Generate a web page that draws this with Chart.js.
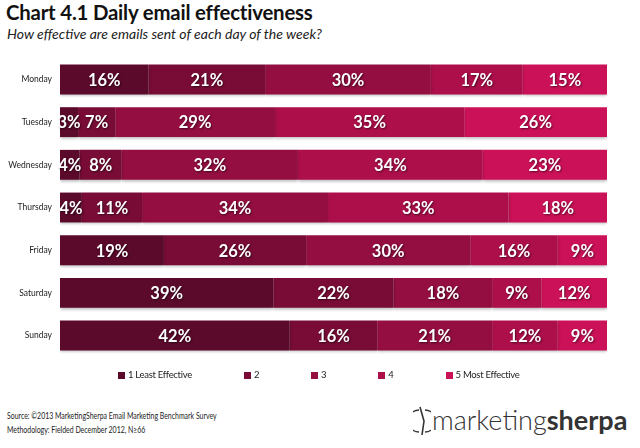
<!DOCTYPE html>
<html>
<head>
<meta charset="utf-8">
<script src="https://cdn.jsdelivr.net/npm/chart.js@4.4.0/dist/chart.umd.min.js"></script>
<style>
  html, body { margin: 0; padding: 0; background: #fff; }
  body { width: 640px; height: 448px; position: relative; overflow: hidden; font-family: Lato, "Open Sans", sans-serif; color: #111; }
  #title { position: absolute; left: 6px; top: -1px; font-size: 21px; font-weight: 700; letter-spacing: -0.2px; transform: scaleX(0.97); transform-origin: left; }
  #subtitle { position: absolute; left: 7px; top: 25px; font-size: 14px; font-style: italic; color: #222; }
  #wrap { position: absolute; left: 0; top: 45px; width: 640px; height: 325px; }
  #legend { position: absolute; left: 118px; top: 369px; display: flex; gap: 52px; font-size: 9.5px; letter-spacing: -0.3px; color: #222; white-space: nowrap; }
  #legend span.sw { display: inline-block; width: 7px; height: 7px; margin-right: 3px; vertical-align: -0.5px; }
  #source { position: absolute; left: 7px; top: 409px; font-size: 9.5px; line-height: 13.5px; color: #222; transform: scaleX(0.73); transform-origin: left; white-space: nowrap; }
  #logo { position: absolute; left: 413px; top: 403px; font-size: 27px; color: #333; white-space: nowrap; }
  #logo .light { font-weight: 300; }
  #logo .bold { font-weight: 700; }
  #logo svg { vertical-align: -6px; margin-right: 1px; }
</style>
</head>
<body>
<div id="title">Chart 4.1 Daily email effectiveness</div>
<div id="subtitle">How effective are emails sent of each day of the week?</div>
<div id="wrap"><canvas id="chart"></canvas></div>
<div id="legend"></div>
<div id="source">Source: ©2013 MarketingSherpa Email Marketing Benchmark Survey<br>Methodology: Fielded December 2012, N≥66</div>
<div id="logo"><svg width="18" height="30" viewBox="0 0 18 30"><path d="M6 4 A11 11 0 0 0 6 26" fill="none" stroke="#333" stroke-width="1.4"/><path d="M12 4 A11 11 0 0 1 12 26" fill="none" stroke="#333" stroke-width="1.4"/><path d="M7 1 L11 15 L9 29" fill="none" stroke="#333" stroke-width="1.6"/></svg><span class="light">marketing</span><span class="bold">sherpa</span></div>
<script>
const days = ['Monday', 'Tuesday', 'Wednesday', 'Thursday', 'Friday', 'Saturday', 'Sunday'];
const seriesNames = ['1 Least Effective', '2', '3', '4', '5 Most Effective'];
const seriesColors = ['#5c0a2c', '#790c36', '#940e41', '#ad0f4b', '#cb1158'];

// shares; labels show them rounded
const score1 = [16.2, 3.3, 3.6, 4, 19, 39, 42];
const score2 = [21.3, 6.8, 7.7, 11, 26, 22, 16];
const score3 = [30.3, 29.2, 32.2, 34, 30, 18, 21];
const score4 = [16.8, 34.6, 33.8, 33, 16, 9, 12];
const score5 = [15.4, 26.1, 22.7, 18, 9, 12, 9];
const allScores = [score1, score2, score3, score4, score5];

// legend as html so the spacing can match the original
const legendBox = document.getElementById('legend');
seriesNames.forEach((name, i) => {
  const item = document.createElement('div');
  item.innerHTML = `<span class="sw" style="background:${seriesColors[i]}"></span>${name}`;
  legendBox.appendChild(item);
});

const barShadow = {
  id: 'barShadow',
  beforeDatasetsDraw(chart) {
    const ctx = chart.ctx;
    ctx.save();
    ctx.shadowColor = 'rgba(0,0,0,0.28)';
    ctx.shadowBlur = 3;
    ctx.shadowOffsetY = 2;
  },
  afterDatasetsDraw(chart) {
    chart.ctx.restore();
  }
};

const segmentLabels = {
  id: 'segmentLabels',
  afterDatasetsDraw(chart) {
    const ctx = chart.ctx;
    ctx.save();
    ctx.font = 'bold 16.5px Lato, sans-serif';
    ctx.fillStyle = '#fff';
    ctx.textAlign = 'center';
    ctx.textBaseline = 'middle';
    ctx.shadowColor = 'rgba(0,0,0,0.55)';
    ctx.shadowBlur = 2;
    ctx.shadowOffsetX = 1;
    ctx.shadowOffsetY = 1;
    chart.data.datasets.forEach((ds, i) => {
      chart.getDatasetMeta(i).data.forEach((bar, j) => {
        const cx = (bar.x + bar.base) / 2;
        ctx.fillText(Math.round(ds.data[j]) + '%', cx, bar.y + 1);
      });
    });
    ctx.restore();
  }
};

new Chart(document.getElementById('chart'), {
  type: 'bar',
  data: {
    labels: days,
    datasets: allScores.map((vals, i) => ({
      label: seriesNames[i],
      data: vals,
      backgroundColor: seriesColors[i],
      borderWidth: 0,
      barPercentage: 0.7,
      categoryPercentage: 1
    }))
  },
  options: {
    indexAxis: 'y',
    responsive: true,
    maintainAspectRatio: false,
    animation: false,
    layout: { padding: { top: 7, right: 33, left: 0, bottom: 3 } },
    plugins: {
      tooltip: { enabled: false },
      legend: { display: false }
    },
    scales: {
      x: { stacked: true, min: 0, max: 100, display: false },
      y: {
        stacked: true,
        grid: { display: false, drawTicks: false },
        border: { display: false },
        ticks: { color: '#222', padding: 8, font: { family: 'Lato, sans-serif', size: 8.5 } },
        afterFit(scale) { scale.width = 60; }
      }
    }
  },
  plugins: [barShadow, segmentLabels]
});
</script>
</body>
</html>
